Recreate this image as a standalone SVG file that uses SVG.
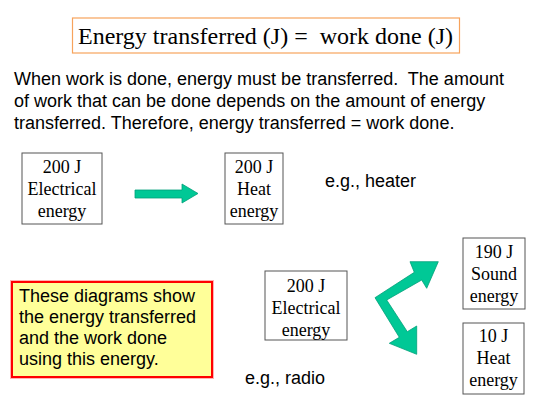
<svg xmlns="http://www.w3.org/2000/svg" width="540" height="405" viewBox="0 0 540 405" xml:space="preserve">
<style>
.serif{font-family:"Liberation Serif","Times New Roman",serif;fill:#000}
.sans{font-family:"Liberation Sans",Arial,sans-serif;fill:#000}
.box{fill:#fff;stroke:#555;stroke-width:1}
.nt{font-size:18px;text-anchor:middle}
.arrow{fill:#00C896;stroke:#00A078;stroke-width:0.8}
text{white-space:pre}
</style>
<rect width="540" height="405" fill="#fff"/>
<g id="title">
<rect x="72.5" y="18" width="387" height="35" fill="#fff" stroke="#F7A35C" stroke-width="1.2"/>
<text class="serif" x="78" y="44" font-size="24">Energy transferred (J) =  work done (J)</text>
</g>
<g id="paragraph" class="sans" font-size="18">
<text x="14" y="85">When work is done, energy must be transferred.  The amount</text>
<text x="14" y="107">of work that can be done depends on the amount of energy</text>
<text x="14" y="129">transferred. Therefore, energy transferred = work done.</text>
</g>
<g id="elec1">
<rect class="box" x="22" y="153" width="80" height="71"/>
<text class="serif nt" x="62" y="173">200 J</text>
<text class="serif nt" x="62" y="195">Electrical</text>
<text class="serif nt" x="62" y="217">energy</text>
</g>
<g id="heat1">
<rect class="box" x="225" y="153" width="58" height="71"/>
<text class="serif nt" x="254" y="173">200 J</text>
<text class="serif nt" x="254" y="195">Heat</text>
<text class="serif nt" x="254" y="217">energy</text>
</g>
<g id="heater-label">
<text class="sans" x="325" y="187" font-size="18">e.g., heater</text>
</g>
<g id="note">
<rect x="12" y="282" width="200" height="95" fill="#FFFF99" stroke="#FF0000" stroke-width="2"/>
<rect x="10.5" y="280.5" width="203" height="98" fill="none" stroke="#FF8080" stroke-width="1" opacity="0.6"/>
<g class="sans" font-size="18">
<text x="19" y="302">These diagrams show</text>
<text x="19" y="323">the energy transferred</text>
<text x="19" y="344">and the work done</text>
<text x="19" y="365">using this energy.</text>
</g>
</g>
<g id="elec2">
<rect class="box" x="265" y="271" width="82" height="69"/>
<text class="serif nt" x="306" y="292">200 J</text>
<text class="serif nt" x="306" y="314">Electrical</text>
<text class="serif nt" x="306" y="336">energy</text>
</g>
<g id="radio-label">
<text class="sans" x="245" y="384" font-size="18">e.g., radio</text>
</g>
<g id="sound">
<rect class="box" x="463" y="238" width="62" height="71"/>
<text class="serif nt" x="494" y="258">190 J</text>
<text class="serif nt" x="494" y="280">Sound</text>
<text class="serif nt" x="494" y="302">energy</text>
</g>
<g id="heat2">
<rect class="box" x="463" y="323" width="61" height="71"/>
<text class="serif nt" x="493.5" y="342">10 J</text>
<text class="serif nt" x="493.5" y="364">Heat</text>
<text class="serif nt" x="493.5" y="386">energy</text>
</g>
<g id="connectors">
<polygon class="arrow" points="135,190 182,190 182,184 198,193.5 182,203 182,198 135,198"/>
<polygon class="arrow" points="375,297.7 414.3,272.3 410,261.7 438.3,261.7 426.7,288.3 421.7,280 386.7,300 407.3,331.7 416.7,326 416.7,354.3 389.3,343.3 399.3,337.3"/>
</g>
</svg>
